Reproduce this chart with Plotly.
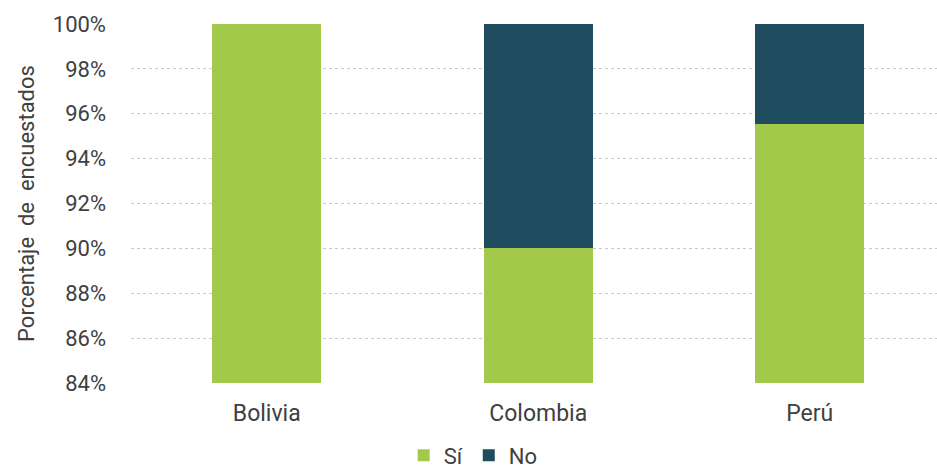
import plotly.graph_objects as go

countries = ["Bolivia", "Colombia", "Perú"]
si_values = [100.0, 90.0, 95.55]
no_values = [0.0, 10.0, 4.45]
y_ticks = [84, 86, 88, 90, 92, 94, 96, 98, 100]

fig = go.Figure()
fig.add_trace(go.Bar(x=countries, y=si_values, name="Sí", marker_color="#A2C94A",
                     width=0.4, marker_line_width=0))
fig.add_trace(go.Bar(x=countries, y=no_values, name="No", marker_color="#1F4D5F",
                     width=0.4, marker_line_width=0))

fig.update_layout(
    barmode="stack",
    width=937, height=468,
    margin=dict(l=131, r=0, t=24, b=85),
    plot_bgcolor="white", paper_bgcolor="white",
    font=dict(family="Roboto", size=22, color="#404040"),
    legend=dict(orientation="h", xref="container", yref="container",
                x=0.505, y=0.027, xanchor="center", yanchor="middle",
                font=dict(size=22, color="#404040"), itemwidth=30,
                traceorder="normal"),
)
fig.update_xaxes(range=[-0.5, 2.469], showgrid=False, showline=False,
                 ticks="", ticklabelstandoff=14, tickfont=dict(size=23))
fig.update_yaxes(range=[84, 100], tickvals=y_ticks,
                 ticktext=[f"{v}%" for v in y_ticks],
                 showgrid=True, gridcolor="#C8C8C8", griddash="dot", gridwidth=1,
                 zeroline=False, showline=False, ticks="", ticklabelstandoff=24,
                 tickfont=dict(size=22),
                 title=dict(text="Porcentaje  de  encuestados", font=dict(size=22),
                            standoff=12))
fig.write_html("out.html")
